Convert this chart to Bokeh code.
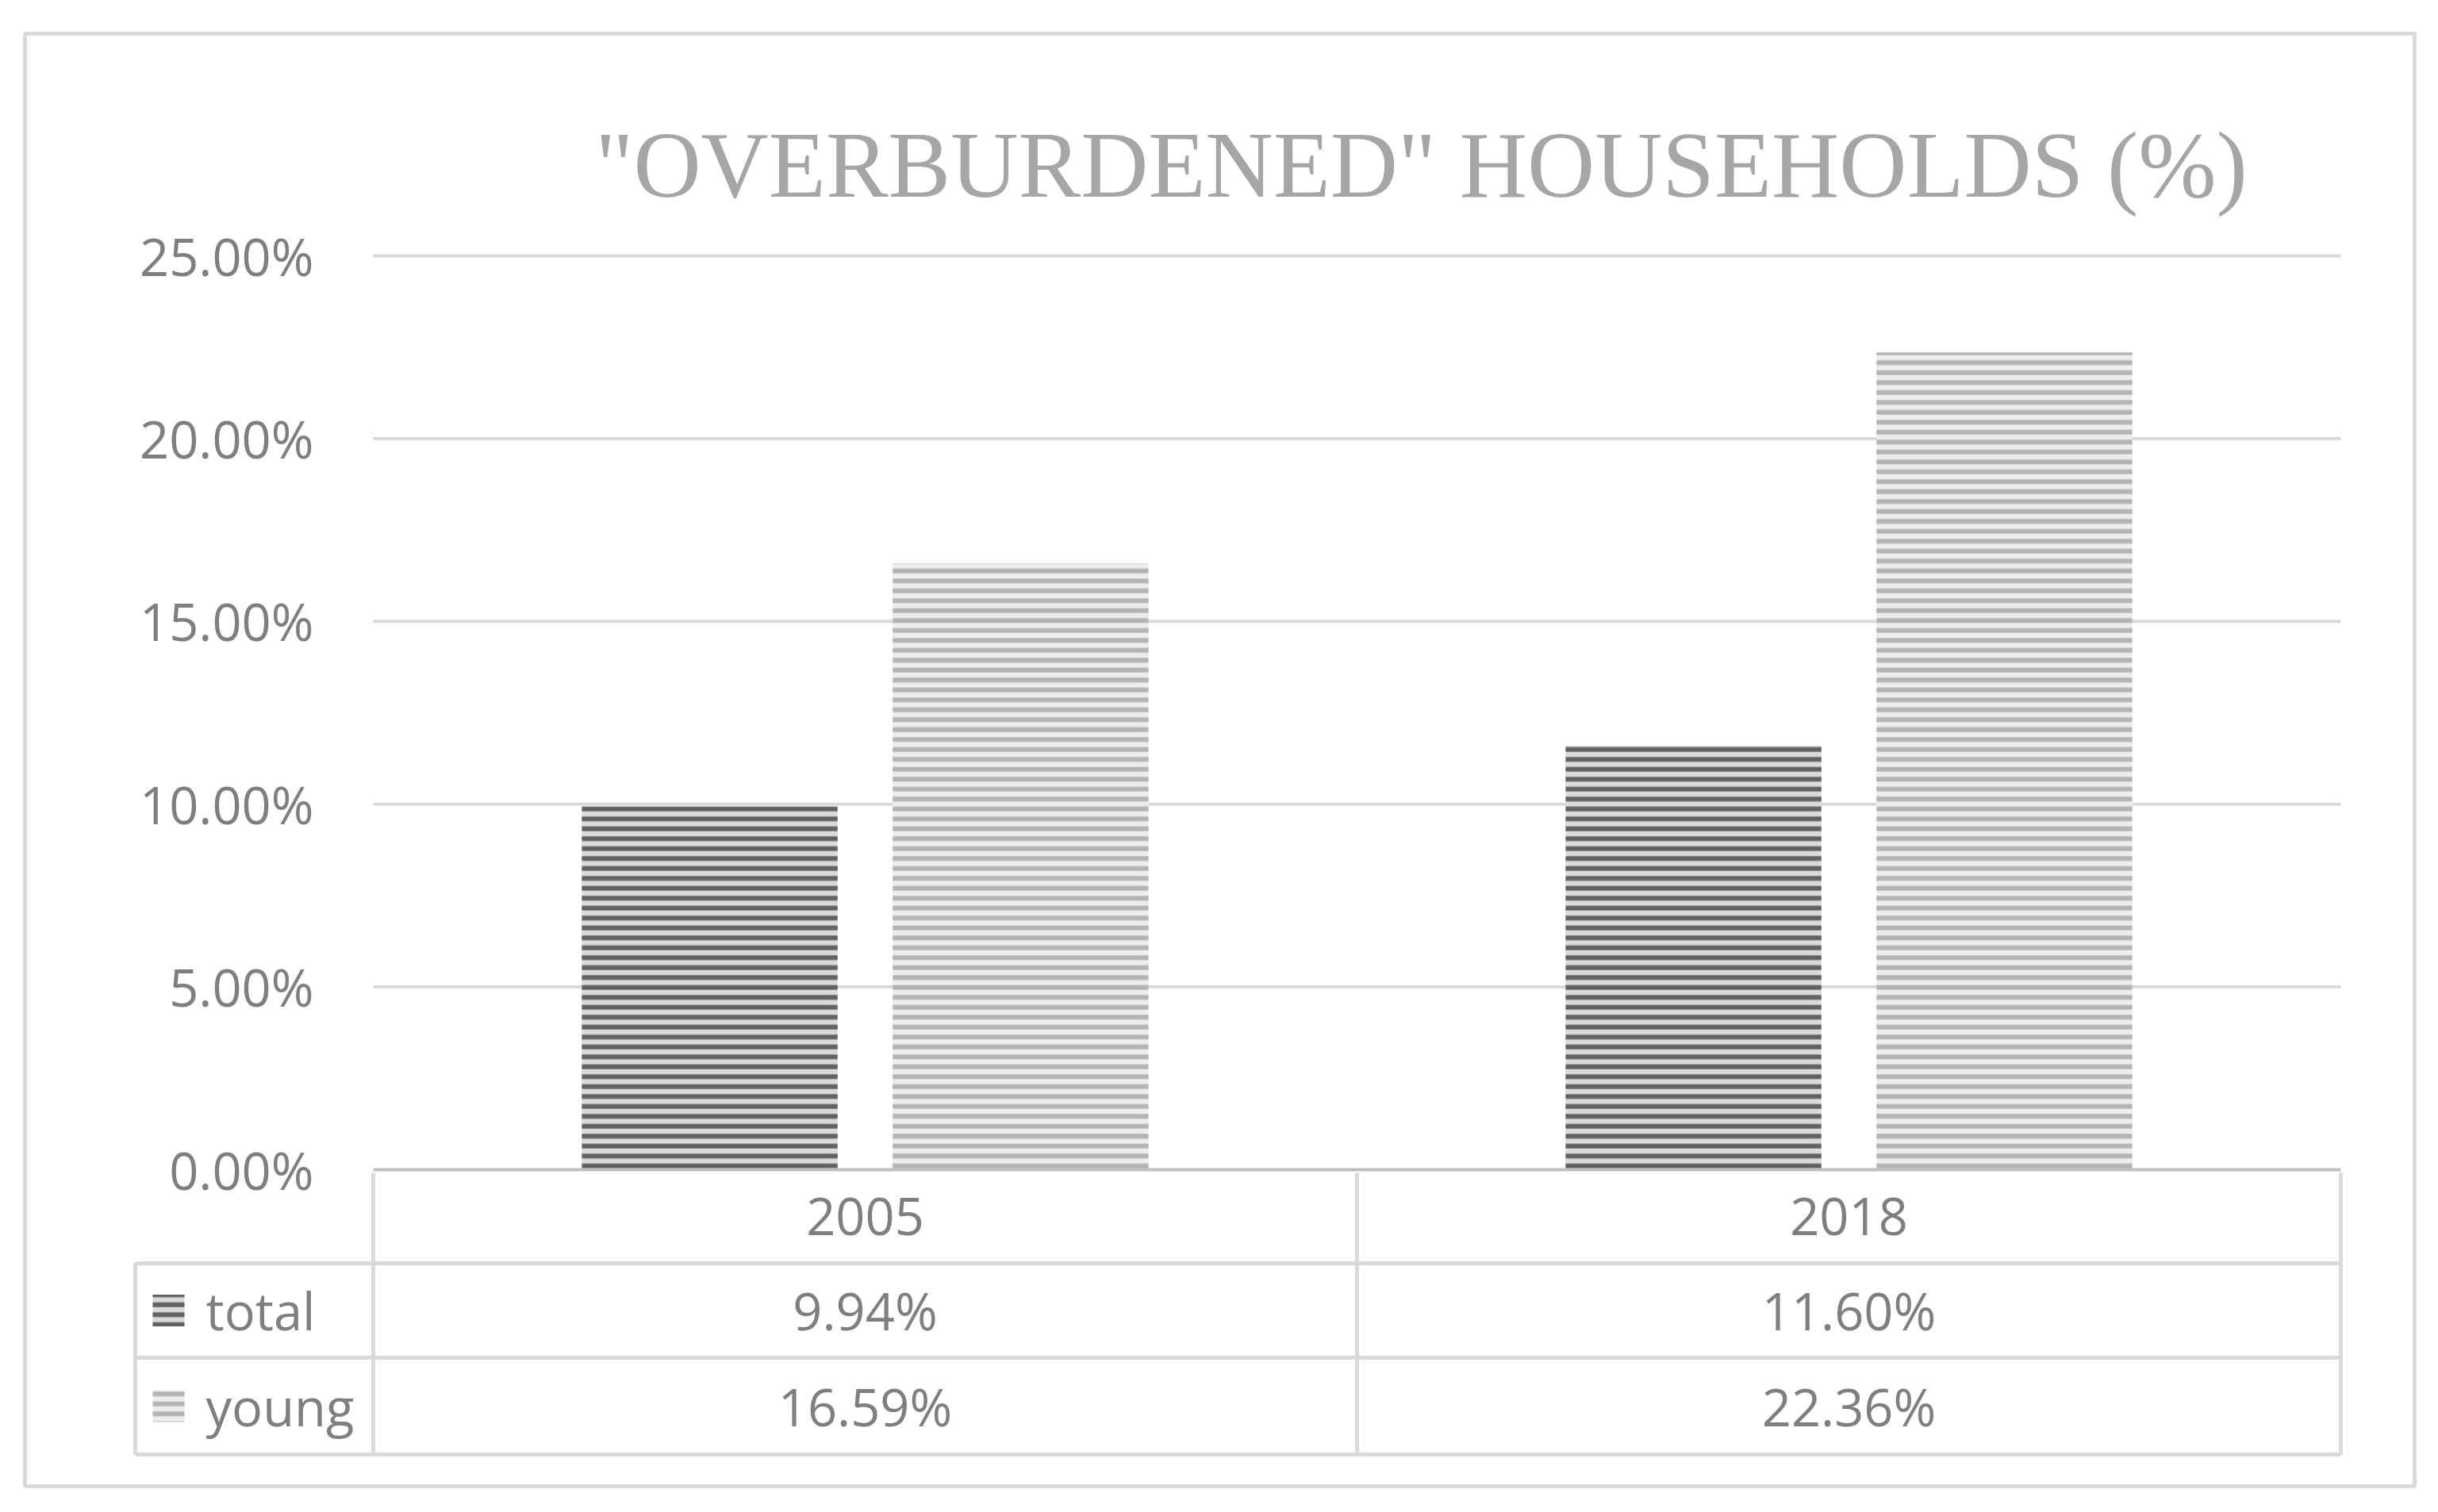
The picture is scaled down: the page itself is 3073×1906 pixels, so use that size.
from bokeh.plotting import figure
from bokeh.models import Range1d
from bokeh.core.properties import value
from bokeh.embed import file_html
from bokeh.resources import INLINE

# ---------------- data ----------------
categories = ["2005", "2018"]
series = ["total", "young"]
total = [9.94, 11.60]
young = [16.59, 22.36]
value_labels = {"total": ["9.94%", "11.60%"], "young": ["16.59%", "22.36%"]}
y_ticks = [0, 5, 10, 15, 20, 25]
y_tick_labels = ["0.00%", "5.00%", "10.00%", "15.00%", "20.00%", "25.00%"]
title_text = '"OVERBURDENED" HOUSEHOLDS (%)'

# ---------------- styles ----------------
fills = {"total": "#dadada", "young": "#ededed"}
hatches = {"total": "#626262", "young": "#b4b4b4"}
offsets = {"total": -0.158, "young": 0.158}
BAR_W = 0.26
GRID = "#d9d9d9"
TXT = "#7f7f7f"
FONT = value("Open Sans")

# ---------------- layout (page pixels) ----------------
W, H = 3057, 1890
OFF = 0
PL, PR = 470, 2950          # plot area left / right
P0, PTOP = 1474, 322        # pixel of y=0 and y=25
XS = (PR - PL) / len(categories)
YS = (P0 - PTOP) / y_ticks[-1]


def X(px):
    return (px - PL) / XS


def Y(py):
    return (P0 - py) / YS


TABLE_LEFT = 170
ROW_EDGES = [P0, 1592, 1711, 1833]
LEG_X = 212
LEG_TXT_X = 259

p = figure(width=W, height=H, x_range=Range1d(X(OFF), X(OFF + W)),
           y_range=Range1d(Y(OFF + H), Y(OFF)),
           x_axis_location=None, y_axis_location=None,
           toolbar_location=None, output_backend="svg", min_border=0)
p.grid.visible = False
p.outline_line_color = None
p.background_fill_color = "white"
p.border_fill_color = "white"

ncat = len(categories)

# outer border
p.quad(left=[X(31)], right=[X(3043)], top=[Y(42)], bottom=[Y(1873)],
       fill_color=None, line_color=GRID, line_width=5)

# title
p.text(x=[X(1791)], y=[Y(208)], text=[title_text], text_align="center",
       text_baseline="alphabetic", text_font=value("Liberation Serif"),
       text_font_size="118px", text_color="#a6a6a6")

# gridlines
gt = y_ticks[1:]
p.segment(x0=[0] * len(gt), x1=[ncat] * len(gt), y0=gt, y1=gt,
          line_color=GRID, line_width=4)

# y tick labels
p.text(x=[X(395)] * len(y_ticks), y=y_ticks, text=y_tick_labels,
       text_align="right", text_baseline="middle", text_font=FONT,
       text_font_size="65px", text_color=TXT)

# bars
data = {"total": total, "young": young}
for s in series:
    xs = [i + 0.5 + offsets[s] for i in range(ncat)]
    p.vbar(x=xs, top=data[s], bottom=0, width=BAR_W,
           fill_color=fills[s], line_color=None,
           hatch_pattern="horizontal_line", hatch_color=hatches[s],
           hatch_weight=6, hatch_scale=12.5)

# axis line
p.segment(x0=[0], x1=[ncat], y0=[0], y1=[0], line_color="#bfbfbf", line_width=4)

# ---------------- data table ----------------
ry = [Y(r) for r in ROW_EDGES]
# horizontal lines
p.segment(x0=[X(TABLE_LEFT)] * 3, x1=[ncat] * 3, y0=ry[1:], y1=ry[1:],
          line_color=GRID, line_width=5)
# vertical lines
vx = list(range(ncat + 1))
p.segment(x0=vx, x1=vx, y0=[Y(P0 + 4)] * len(vx), y1=[ry[-1]] * len(vx),
          line_color=GRID, line_width=5)
p.segment(x0=[X(TABLE_LEFT)], x1=[X(TABLE_LEFT)], y0=[ry[1]], y1=[ry[-1]],
          line_color=GRID, line_width=5)

# header (categories)
p.text(x=[i + 0.5 for i in range(ncat)], y=[(ry[0] + ry[1]) / 2] * ncat,
       text=categories, text_align="center", text_baseline="middle",
       text_font=FONT, text_font_size="65px", text_color=TXT)

for k, s in enumerate(series):
    yc = (ry[k + 1] + ry[k + 2]) / 2
    p.text(x=[i + 0.5 for i in range(ncat)], y=[yc] * ncat,
           text=value_labels[s], text_align="center", text_baseline="middle",
           text_font=FONT, text_font_size="65px", text_color=TXT)
    p.rect(x=[X(LEG_X)], y=[yc], width=40, height=40,
           width_units="screen", height_units="screen",
           fill_color=fills[s], line_color=None,
           hatch_pattern="horizontal_line", hatch_color=hatches[s],
           hatch_weight=6, hatch_scale=12.5)
    p.text(x=[X(LEG_TXT_X)], y=[yc], text=[s], text_align="left",
           text_baseline="middle", text_font=FONT, text_font_size="65px",
           text_color=TXT)

open("out.html", "w").write(file_html(p, INLINE))
